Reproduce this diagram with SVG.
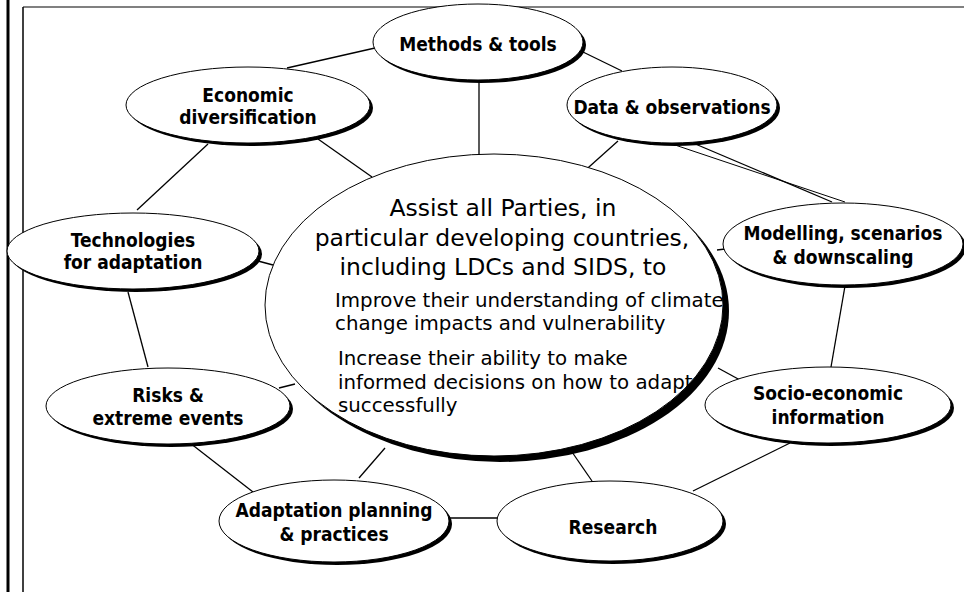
<svg xmlns="http://www.w3.org/2000/svg" width="964" height="592" viewBox="0 0 964 592">
<style>
.sh{fill:#000}
.nd{fill:#fff;stroke:#000;stroke-width:1}
.lbl{font-family:"DejaVu Sans Condensed","DejaVu Sans",sans-serif;font-weight:bold;font-size:19px;text-anchor:middle;fill:#000}
.ctr{font-family:"DejaVu Sans","Verdana",sans-serif;font-size:23.5px;text-anchor:middle;fill:#000}
.sub{font-family:"DejaVu Sans","Verdana",sans-serif;font-size:19.8px;fill:#000}
#connectors line{stroke:#000;stroke-width:1.3}
</style>
<rect width="964" height="592" fill="#fff"/>
<g id="frame">
<line x1="8" y1="0" x2="8" y2="592" stroke="#000" stroke-width="3"/>
<line x1="23" y1="7" x2="964" y2="7" stroke="#808080" stroke-width="2"/>
<line x1="23" y1="7" x2="23" y2="592" stroke="#000" stroke-width="1.5"/>
</g>
<g id="connectors">
<line x1="583" y1="52" x2="622" y2="71"/>
<line x1="375" y1="48" x2="287" y2="68"/>
<line x1="479" y1="80" x2="479" y2="155"/>
<line x1="618" y1="141" x2="580" y2="175"/>
<line x1="675" y1="145" x2="845" y2="202" style="stroke-width:1"/>
<line x1="693" y1="143" x2="832" y2="202"/>
<line x1="717" y1="250" x2="725" y2="249"/>
<line x1="845" y1="286" x2="831" y2="367"/>
<line x1="718" y1="368" x2="740" y2="380"/>
<line x1="790" y1="443" x2="693" y2="491"/>
<line x1="572" y1="452" x2="592" y2="481"/>
<line x1="449" y1="518" x2="498" y2="518"/>
<line x1="385" y1="448" x2="359" y2="478"/>
<line x1="190" y1="443" x2="253" y2="492"/>
<line x1="279" y1="388" x2="295" y2="384"/>
<line x1="128" y1="292" x2="148" y2="367"/>
<line x1="258" y1="261" x2="273" y2="265"/>
<line x1="208" y1="144" x2="137" y2="210"/>
<line x1="318" y1="139" x2="372" y2="177"/>
</g>
<g id="center">
<ellipse class="sh" cx="500" cy="311" rx="229" ry="151"/>
<ellipse class="nd" cx="494" cy="305" rx="229" ry="151"/>
<text class="ctr" x="503" y="216">Assist all Parties, in</text>
<text class="ctr" x="502" y="246">particular developing countries,</text>
<text class="ctr" x="503" y="275">including LDCs and SIDS, to</text>
<text class="sub" x="335" y="307">Improve their understanding of climate</text>
<text class="sub" x="335" y="330">change impacts and vulnerability</text>
<text class="sub" x="338" y="365">Increase their ability to make</text>
<text class="sub" x="338" y="389">informed decisions on how to adapt</text>
<text class="sub" x="338" y="412">successfully</text>
</g>
<g id="methods">
<ellipse class="sh" cx="481" cy="45" rx="105" ry="38"/>
<ellipse class="nd" cx="478" cy="42" rx="105" ry="38"/>
<text class="lbl" x="478" y="51">Methods &amp; tools</text>
</g>
<g id="data">
<ellipse class="sh" cx="675" cy="108" rx="105" ry="38"/>
<ellipse class="nd" cx="672" cy="105" rx="105" ry="38"/>
<text class="lbl" x="672" y="114">Data &amp; observations</text>
</g>
<g id="economic">
<ellipse class="sh" cx="251" cy="108" rx="122" ry="38"/>
<ellipse class="nd" cx="248" cy="105" rx="122" ry="38"/>
<text class="lbl" x="248" y="102">Economic</text>
<text class="lbl" x="248" y="124">diversification</text>
</g>
<g id="technologies">
<ellipse class="sh" cx="136" cy="254" rx="126" ry="38"/>
<ellipse class="nd" cx="133" cy="251" rx="126" ry="38"/>
<text class="lbl" x="133" y="247">Technologies</text>
<text class="lbl" x="133" y="269">for adaptation</text>
</g>
<g id="risks">
<ellipse class="sh" cx="171" cy="409" rx="122" ry="38"/>
<ellipse class="nd" cx="168" cy="406" rx="122" ry="38"/>
<text class="lbl" x="168" y="402">Risks &amp;</text>
<text class="lbl" x="168" y="425">extreme events</text>
</g>
<g id="modelling">
<ellipse class="sh" cx="846" cy="247" rx="120" ry="41"/>
<ellipse class="nd" cx="843" cy="244" rx="120" ry="41"/>
<text class="lbl" x="843" y="240">Modelling, scenarios</text>
<text class="lbl" x="843" y="264">&amp; downscaling</text>
</g>
<g id="socio">
<ellipse class="sh" cx="831" cy="408" rx="123" ry="38"/>
<ellipse class="nd" cx="828" cy="405" rx="123" ry="38"/>
<text class="lbl" x="828" y="400">Socio-economic</text>
<text class="lbl" x="828" y="424">information</text>
</g>
<g id="research">
<ellipse class="sh" cx="613" cy="524" rx="113" ry="40"/>
<ellipse class="nd" cx="610" cy="521" rx="113" ry="40"/>
<text class="lbl" x="613" y="534">Research</text>
</g>
<g id="adaptation">
<ellipse class="sh" cx="337" cy="524" rx="115" ry="41"/>
<ellipse class="nd" cx="334" cy="521" rx="115" ry="41"/>
<text class="lbl" x="334" y="517">Adaptation planning</text>
<text class="lbl" x="334" y="541">&amp; practices</text>
</g>
</svg>
